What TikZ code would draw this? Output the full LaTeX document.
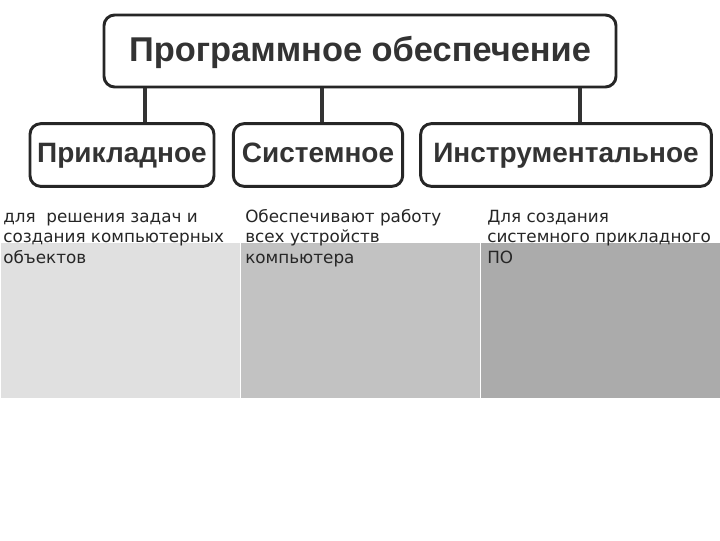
\documentclass[tikz,border=0pt]{standalone}
\usepackage{fontspec}
\setmainfont{Liberation Sans}
\newfontfamily\cellfont{DejaVu Sans}
\begin{document}
\begin{tikzpicture}[x=0.75pt,y=-0.75pt,
  box/.style={draw=black!85,line width=2.2pt,rounded corners=8pt,fill=white,inner sep=0pt,text height=15pt,text depth=4pt,text=black!80},
  cell/.style={draw=white,line width=0.5pt,anchor=north west,minimum width=180pt,minimum height=117pt,inner sep=0pt},
  ctext/.style={anchor=north west,align=left,font=\cellfont\fontsize{12.6}{15.6}\selectfont,inner sep=0pt,text=black!85,text height=10pt},
  link/.style={draw=black!80,line width=2.4pt}]
\useasboundingbox (0,0) rectangle (720,540);
\fill[white] (0,0) rectangle (720,540);
\node[box,minimum width=384pt,minimum height=54pt,font=\bfseries\fontsize{25.8}{28}\selectfont,text height=19pt] (top) at (360,51) {Программное обеспечение};
\node[box,minimum width=138pt,minimum height=47pt,font=\bfseries\fontsize{21}{24}\selectfont] (a) at (122,155) {Прикладное};
\node[box,minimum width=127pt,minimum height=47pt,font=\bfseries\fontsize{21}{24}\selectfont] (b) at (318,155) {Системное};
\node[box,minimum width=218pt,minimum height=47pt,font=\bfseries\fontsize{21}{24}\selectfont] (c) at (566,155) {Инструментальное};
\coordinate (ta) at (145,88); \coordinate (tb) at (322,88); \coordinate (tc) at (580,88);
\draw[link] (ta) -- (ta |- a.north);
\draw[link] (tb) -- (tb |- b.north);
\draw[link] (tc) -- (tc |- c.north);
\node[cell,fill=black!12] (c1) at (0,242) {};
\node[cell,fill=black!24] (c2) at (240,242) {};
\node[cell,fill=black!33] (c3) at (480,242) {};
\node[ctext] (t1) at (3,250) {для \ решения задач и\\создания компьютерных\\объектов};
\node[ctext] (t2) at (245,250) {Обеспечивают работу\\всех устройств\\компьютера};
\node[ctext] (t3) at (487,250) {Для создания\\системного прикладного\\ПО};
\end{tikzpicture}
\end{document}
